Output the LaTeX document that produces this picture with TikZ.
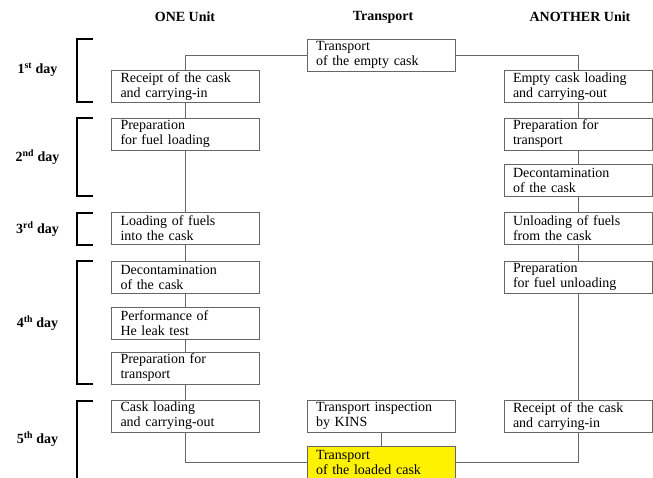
\documentclass[tikz,border=0pt]{standalone}
\usepackage{fontspec}
\setmainfont{Liberation Serif}
\usepackage{tikz}
\usetikzlibrary{positioning}

\begin{document}
\begin{tikzpicture}[x=1pt, y=-1pt,
        stepbox/.style={rectangle, draw=black!60, line width=0.8pt, fill=white, text width=130pt, inner xsep=9pt, inner ysep=1pt, minimum height=32pt, align=left, font=\fontsize{14}{15}\selectfont},
        flow/.style={draw=black!60, line width=0.8pt},
        head/.style={font=\fontsize{14}{15}\selectfont\bfseries},
        daylabel/.style={font=\fontsize{14}{15}\selectfont\bfseries},
        daybracket/.style={line width=2.4pt, line join=miter}
    ]
        \useasboundingbox (0,0) rectangle (653,478);

        % column heads
        \node[head] (hone) at (185,17) {ONE Unit};
        \node[head] (htrans) at (383,17) {Transport};
        \node[head] (hanother) at (580,17) {ANOTHER Unit};

        % transport column
        \node[stepbox] (emptyT) at (381,55) {Transport\\of the empty cask};
        \node[stepbox] (kins) at (381,416) {Transport inspection\\by KINS};
        \node[stepbox, fill=yellow] (loadedT) at (381,462) {Transport\\of the loaded cask};

        % ONE unit
        \node[stepbox] (recOne) at (185.5,86.5) {Receipt of the cask\\and carrying-in};
        \node[stepbox] (prepFuel) at (185.5,134) {Preparation\\for fuel loading};
        \node[stepbox] (loadFuel) at (185.5,228) {Loading of fuels\\into the cask};
        \node[stepbox] (decOne) at (185.5,277) {Decontamination\\of the cask};
        \node[stepbox] (heLeak) at (185.5,323) {Performance of\\He leak test};
        \node[stepbox] (prepOne) at (185.5,368) {Preparation for\\transport};
        \node[stepbox] (caskOut) at (185.5,416) {Cask loading\\and carrying-out};

        % ANOTHER unit
        \node[stepbox] (emptyOut) at (578,86.5) {Empty cask loading\\and carrying-out};
        \node[stepbox] (prepAnother) at (578,134) {Preparation for\\transport};
        \node[stepbox] (decAnother) at (578,180.5) {Decontamination\\of the cask};
        \node[stepbox] (unloadFuel) at (578,228) {Unloading of fuels\\from the cask};
        \node[stepbox] (prepUnload) at (578,277) {Preparation\\for fuel unloading};
        \node[stepbox] (recAnother) at (578,416.5) {Receipt of the cask\\and carrying-in};

        % connectors
        \draw[flow] (emptyT.west) -| (recOne.north);
        \draw[flow] (emptyT.east) -| (emptyOut.north);
        \draw[flow] (recOne) -- (prepFuel) -- (loadFuel) -- (decOne) -- (heLeak) -- (prepOne) -- (caskOut);
        \draw[flow] (emptyOut) -- (prepAnother) -- (decAnother) -- (unloadFuel) -- (prepUnload) -- (recAnother);
        \draw[flow] (caskOut.south) |- (loadedT.west);
        \draw[flow] (recAnother.south) |- (loadedT.east);
        \draw[flow] (kins.south) -- (loadedT.north);

        % days
        \foreach \top/\bot/\mid/\num/\sup in {39/102/70/1/st, 118/196/157/2/nd, 213/245/229/3/rd, 261/384/323/4/th, 401/480/439/5/th} {
            \draw[daybracket] (93,\top) -- (77,\top) -- (77,\bot) -- (93,\bot);
            \node[daylabel] (day\num) at (37.5,\mid) {\num\textsuperscript{\sup} day};
        }
    \end{tikzpicture}
\end{document}
